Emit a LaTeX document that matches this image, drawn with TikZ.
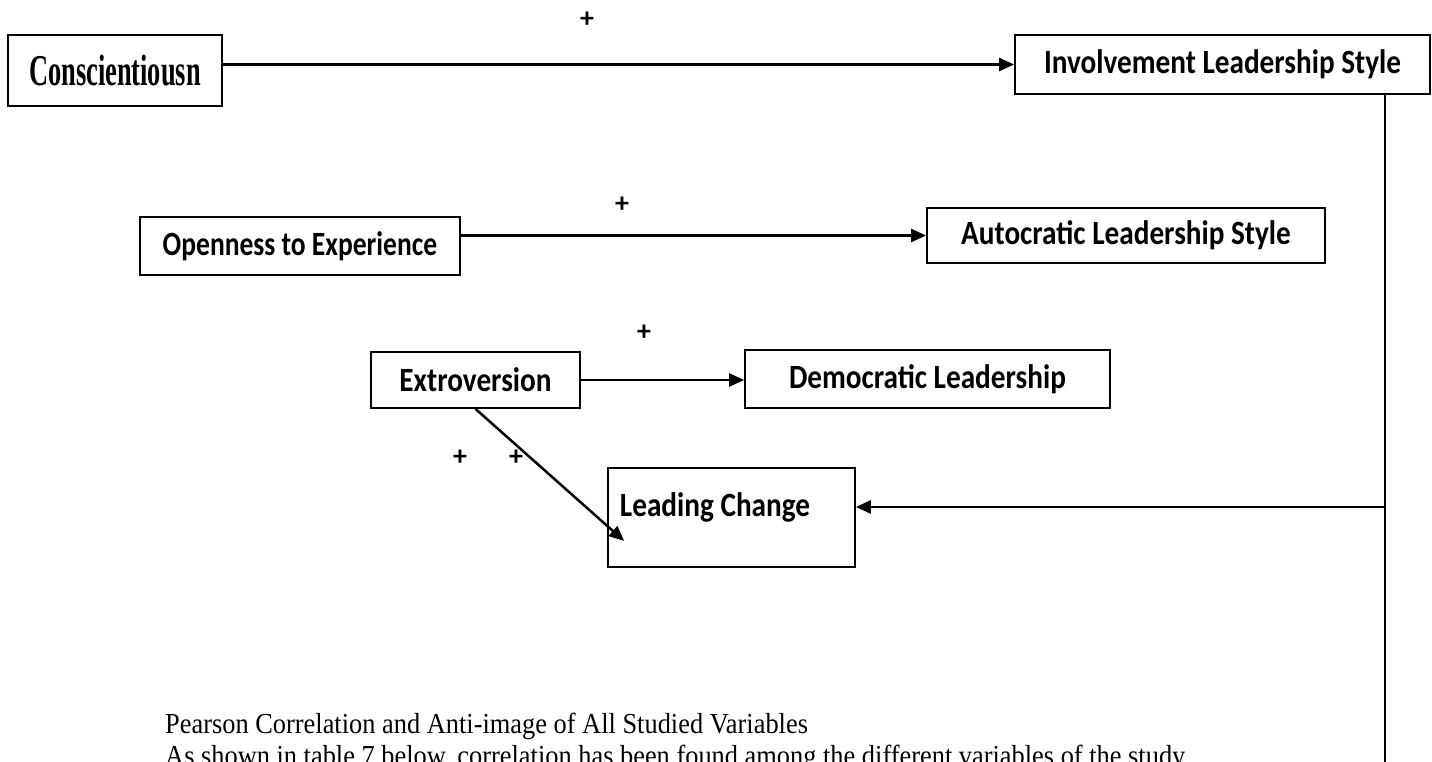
\documentclass[tikz,border=0pt]{standalone}
\usepackage{fontspec}
\setmainfont{Liberation Serif}
\newfontfamily\labelfont{Carlito}
\usetikzlibrary{arrows.meta}

% narrow the lettering sideways only
\newcommand{\squeezed}[2]{\scalebox{#1}[1]{#2}}
\newcommand{\lbl}[1]{\squeezed{0.86}{#1}}

\begin{document}
\begin{tikzpicture}[
  x=1pt,
  y=-1pt,
  >={Triangle[length=15pt,width=13pt]},
  varbox/.style={draw,line width=1.8pt,inner sep=0pt},
  boxlabel/.style={font=\labelfont\bfseries\fontsize{34}{38}\selectfont},
  sign/.style={font=\labelfont\bfseries\fontsize{28}{30}\selectfont,inner sep=0pt},
  link/.style={line width=2.5pt},
  bodytext/.style={font=\fontsize{29}{32}\selectfont,anchor=base west,inner sep=0pt}
]
\useasboundingbox (0,0) rectangle (1432,762);

% Trait and style boxes
\node[varbox,minimum width=214,minimum height=71,
  font=\bfseries\fontsize{44}{46}\selectfont] (consc) at (115,70.5)
  {\squeezed{0.6}{Conscientiousn}};
\node[varbox,boxlabel,minimum width=415,minimum height=59] (involve) at (1222.5,64.5)
  {\lbl{Involvement Leadership Style}};
\node[varbox,boxlabel,minimum width=320,minimum height=58] (open) at (300,246)
  {\squeezed{0.81}{Openness to Experience}};
\node[varbox,boxlabel,minimum width=398,minimum height=55] (auto) at (1126,235.5)
  {\lbl{Autocratic Leadership Style}};
\node[varbox,boxlabel,minimum width=209,minimum height=56] (extro) at (475.5,380)
  {\lbl{Extroversion}};
\node[varbox,boxlabel,minimum width=365,minimum height=58] (demo) at (927.5,379)
  {\lbl{Democratic Leadership}};
\node[varbox,minimum width=247,minimum height=99] (lead) at (731.5,517.5) {};
\node[boxlabel,inner sep=0pt] (leadtext) at (715,507) {\lbl{Leading Change}};

% Paths between the boxes
\draw[link,->] (consc.east |- involve) -- (involve.west);
\draw[link,->] (open.east |- auto) -- (auto.west);
\draw[link,->] (extro) -- (extro -| demo.west);
\coordinate (leadtip) at ([shift={(17,-27)}]lead.south west);
\draw[link,->] (extro.south) -- (leadtip);

% Feedback from the involvement style down the right side
\draw[line width=1.8pt] ([xshift=-46]involve.south east) coordinate (trunktop)
  -- ++(0,668) coordinate (trunkend);
\draw[link,->] (trunktop |- leadtext) -- (leadtext -| lead.east);

% Signs of the relations
\node[sign] (s1) at (587,20) {+};
\node[sign] (s2) at (622,205) {+};
\node[sign] (s3) at (644,333) {+};
\node[sign] (s4) at (460,458) {+};
\node[sign] (s5) at (516,458) {+};

% Running text under the figure
\node[bodytext] (caption) at (165,733)
  {\squeezed{0.91}{Pearson Correlation and Anti-image of All Studied Variables}};
\node[bodytext] (para) at (165,765)
  {\squeezed{0.91}{As shown in table 7 below, correlation has been found among the different variables of the study}};

\end{tikzpicture}
\end{document}
